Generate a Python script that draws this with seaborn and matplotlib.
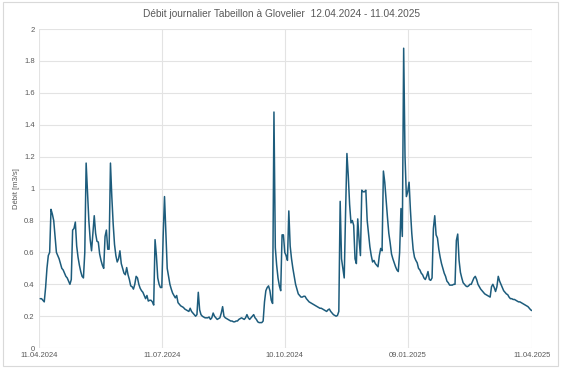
import pandas as pd
import numpy as np
import matplotlib
matplotlib.use('Agg')
import matplotlib.pyplot as plt
import matplotlib.dates as mdates
from matplotlib.patches import Rectangle
import seaborn as sns

# Débit journalier (m3/s), 12.04.2024 - 11.04.2025, par mois
apr24 = [0.31, 0.31, 0.30, 0.29, 0.38, 0.50, 0.58, 0.60, 0.87, 0.84, 0.80, 0.70, 0.60, 0.58, 0.56, 0.53,
         0.50, 0.49, 0.47]
may24 = [0.45, 0.44, 0.42, 0.40, 0.43, 0.74, 0.75, 0.79, 0.64, 0.57, 0.52, 0.48, 0.45, 0.44, 0.60, 1.16,
         0.98, 0.80, 0.68, 0.61, 0.72, 0.83, 0.72, 0.67, 0.665, 0.59, 0.55, 0.52, 0.50, 0.70, 0.74]
jun24 = [0.62, 0.62, 1.16, 0.95, 0.78, 0.65, 0.58, 0.54, 0.56, 0.61, 0.53, 0.50, 0.47, 0.46, 0.505, 0.46,
         0.43, 0.39, 0.385, 0.37, 0.40, 0.45, 0.44, 0.40, 0.375, 0.36, 0.35, 0.33, 0.31, 0.33]
jul24 = [0.295, 0.30, 0.30, 0.29, 0.27, 0.68, 0.58, 0.44, 0.40, 0.38, 0.38, 0.70, 0.95, 0.72, 0.50, 0.45,
         0.40, 0.37, 0.345, 0.33, 0.315, 0.33, 0.285, 0.275, 0.265, 0.26, 0.255, 0.245, 0.24, 0.235, 0.23]
aug24 = [0.25, 0.23, 0.22, 0.21, 0.20, 0.21, 0.35, 0.24, 0.21, 0.20, 0.195, 0.19, 0.19, 0.19, 0.195, 0.18,
         0.19, 0.22, 0.20, 0.19, 0.18, 0.185, 0.19, 0.22, 0.26, 0.20, 0.19, 0.185, 0.18, 0.175, 0.17]
sep24 = [0.17, 0.165, 0.165, 0.17, 0.17, 0.18, 0.185, 0.19, 0.185, 0.18, 0.19, 0.21, 0.19, 0.18, 0.19,
         0.20, 0.21, 0.19, 0.18, 0.165, 0.16, 0.16, 0.16, 0.17, 0.29, 0.36, 0.38, 0.39, 0.36, 0.30]
oct24 = [0.28, 1.48, 0.63, 0.52, 0.44, 0.39, 0.36, 0.71, 0.71, 0.60, 0.58, 0.55, 0.86, 0.64, 0.56, 0.50,
         0.45, 0.40, 0.37, 0.34, 0.33, 0.32, 0.32, 0.325, 0.325, 0.31, 0.30, 0.29, 0.285, 0.28, 0.275]
nov24 = [0.27, 0.265, 0.26, 0.255, 0.25, 0.25, 0.245, 0.24, 0.235, 0.23, 0.24, 0.245, 0.23, 0.22, 0.21,
         0.205, 0.20, 0.205, 0.23, 0.92, 0.56, 0.50, 0.44, 0.85, 1.22, 1.08, 0.90, 0.785, 0.80, 0.77]
dec24 = [0.56, 0.53, 0.81, 0.68, 0.58, 0.99, 0.98, 0.98, 0.99, 0.80, 0.72, 0.635, 0.58, 0.54, 0.55, 0.53,
         0.52, 0.51, 0.58, 0.625, 0.61, 1.11, 1.04, 0.93, 0.82, 0.72, 0.66, 0.59, 0.56, 0.535, 0.51]
jan25 = [0.49, 0.48, 0.60, 0.875, 0.70, 1.88, 1.20, 0.95, 0.98, 1.04, 0.865, 0.72, 0.62, 0.57, 0.55,
         0.535, 0.50, 0.49, 0.47, 0.46, 0.44, 0.43, 0.45, 0.48, 0.43, 0.425, 0.44, 0.75, 0.83, 0.71, 0.69]
feb25 = [0.62, 0.57, 0.53, 0.50, 0.47, 0.45, 0.42, 0.41, 0.395, 0.395, 0.395, 0.40, 0.40, 0.675, 0.715,
         0.55, 0.475, 0.44, 0.41, 0.40, 0.39, 0.385, 0.39, 0.40, 0.40, 0.42, 0.44, 0.45]
mar25 = [0.43, 0.40, 0.385, 0.37, 0.36, 0.35, 0.34, 0.335, 0.33, 0.325, 0.32, 0.385, 0.40, 0.38, 0.355,
         0.385, 0.45, 0.42, 0.40, 0.38, 0.36, 0.35, 0.34, 0.335, 0.32, 0.31, 0.31, 0.305, 0.305, 0.30, 0.295]
apr25 = [0.29, 0.29, 0.285, 0.28, 0.275, 0.27, 0.265, 0.26, 0.25, 0.24, 0.235]

tick_dates = ['2024-04-11', '2024-07-11', '2024-10-10', '2025-01-09', '2025-04-11']
y_ticks = [0, 0.2, 0.4, 0.6, 0.8, 1, 1.2, 1.4, 1.6, 1.8, 2]

debit = apr24 + may24 + jun24 + jul24 + aug24 + sep24 + oct24 + nov24 + dec24 + jan25 + feb25 + mar25 + apr25
dates = pd.date_range('2024-04-12', periods=len(debit), freq='D')
df = pd.DataFrame({'date': dates, 'debit': debit})

sns.set_style('white')
plt.rcParams['font.family'] = ['Liberation Sans', 'DejaVu Sans']

fig = plt.figure(figsize=(5.63, 3.68), dpi=100)
ax = fig.add_axes([0.069, 0.054, 0.876, 0.867])

sns.lineplot(data=df, x='date', y='debit', ax=ax, color='#1d5c7c', linewidth=1.1)

ticks = pd.to_datetime(tick_dates)
ax.set_xlim(ticks[0], ticks[-1])
ax.set_xticks(ticks)
ax.set_xticklabels([t.strftime('%d.%m.%Y') for t in ticks])
ax.set_ylim(0, 2)
ax.set_yticks(y_ticks)
ax.set_yticklabels([f'{v:g}' for v in y_ticks])

ax.grid(True, color='#e3e3e3', linewidth=0.8)
ax.set_axisbelow(True)
for s in ax.spines.values():
    s.set_visible(False)
ax.tick_params(axis='both', length=0, labelsize=5.5, labelcolor='#595959', pad=3)

ax.set_xlabel('')
ax.set_ylabel('Débit [m3/s]', fontsize=5.5, color='#595959', labelpad=3)
fig.text(0.5, 0.962, 'Débit journalier Tabeillon à Glovelier  12.04.2024 - 11.04.2025',
         ha='center', va='center', fontsize=7.3, color='#595959')

fig.patches.append(Rectangle((3 / 563, 2 / 368), 555 / 563, 364 / 368, transform=fig.transFigure,
                             fill=False, edgecolor='#d9d9d9', linewidth=0.8))

fig.savefig('out.png', dpi=100)
